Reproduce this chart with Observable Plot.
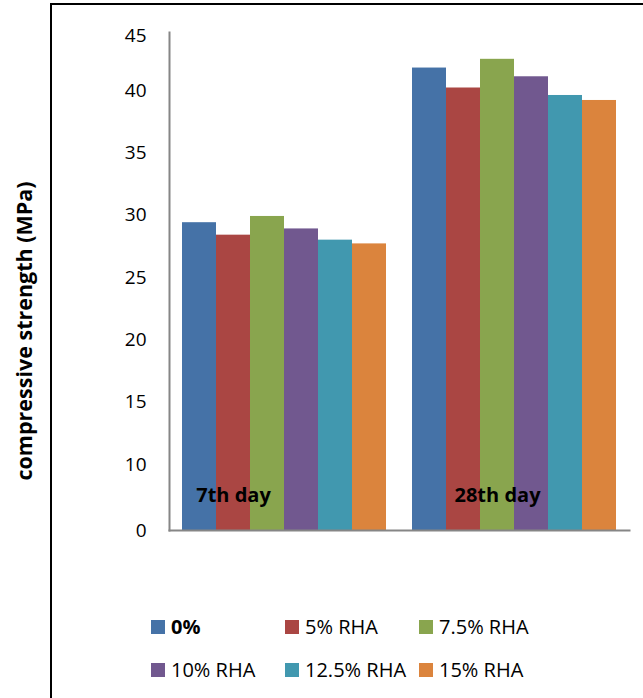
<!DOCTYPE html>
<html>
<head>
<meta charset="utf-8">
<script src="https://cdn.jsdelivr.net/npm/d3@7"></script>
<script src="https://cdn.jsdelivr.net/npm/@observablehq/plot@0.6"></script>
<style>
  html, body { margin: 0; padding: 0; background: #fff; }
  #wrap { position: relative; width: 643px; height: 698px; overflow: hidden; font-family: "Open Sans", sans-serif; }
  #chart { position: absolute; left: 0; top: 0; }
  #border { position: absolute; left: 50px; top: 3px; width: 700px; height: 800px; border-top: 2px solid #000; border-left: 2px solid #000; pointer-events: none; }
  .leg { position: absolute; display: flex; align-items: center; font-size: 20px; color: #000; white-space: nowrap; }
  .sw { width: 14px; height: 14px; margin-right: 6px; }
</style>
</head>
<body>
<div id="wrap">
  <div id="chart"></div>
  <div id="border"></div>
  <div id="legend"></div>
</div>
<script>
const groups = ["7th day", "28th day"];
const series = ["0%", "5% RHA", "7.5% RHA", "10% RHA", "12.5% RHA", "15% RHA"];
const day7 = [29.4, 28.4, 29.9, 28.9, 28.0, 27.7];
const day28 = [41.8, 40.2, 42.5, 41.1, 39.6, 39.2];
const colors = ["#4572A7", "#AA4643", "#89A54E", "#71588F", "#4198AF", "#DB843D"];
const yDomain = [4.72, 44.65];
const yTickValues = [4.72, 10, 15, 20, 25, 30, 35, 40, 44.4];
const yTickLabels = ["0", "10", "15", "20", "25", "30", "35", "40", "45"];
const yTitle = "compressive strength (MPa)";
const dayLabelAt = ["5% RHA", "7.5% RHA"];
const dayLabelY = [7.5, 7.5];

const data = [];
[day7, day28].forEach((vals, g) => vals.forEach((v, i) => data.push({group: groups[g], series: series[i], value: v})));
const dayLabels = groups.map((g, i) => ({group: g, at: dayLabelAt[i], y: dayLabelY[i]}));

const plot = Plot.plot({
  width: 643,
  height: 560,
  marginTop: 32,
  marginBottom: 30,
  marginLeft: 169,
  marginRight: 14,
  style: {fontFamily: "'Open Sans', sans-serif", color: "#000", background: "transparent"},
  fx: {domain: groups, padding: 0, axis: null, label: null},
  x: {domain: series, paddingInner: 0, paddingOuter: 0.382, axis: null},
  y: {domain: yDomain, axis: null},
  color: {domain: series, range: colors},
  marks: [
    Plot.barY(data, {fx: "group", x: "series", y1: yDomain[0], y2: "value", fill: "series"}),
    Plot.text(dayLabels, {fx: "group", x: "at", y: "y", text: "group", fontWeight: "bold", fontSize: 20, fill: "#000"}),
    Plot.axisY({ticks: yTickValues, tickFormat: (d, i) => yTickLabels[i], tickSize: 0, tickPadding: 23, fontSize: 19, fill: "#000", label: null}),
    Plot.text([yTitle], {facet: "super", frameAnchor: "left", text: d => d, rotate: -90, dx: -144, dy: 199, fontSize: 21.5, fontWeight: "bold", fill: "#000"}),
    Plot.frame({anchor: "bottom", facet: "super", stroke: "#868686", strokeWidth: 2}),
    Plot.frame({anchor: "left", facet: "super", stroke: "#868686", strokeWidth: 2})
  ]
});
document.getElementById("chart").appendChild(plot);

const legend = document.getElementById("legend");
const colLeft = [151, 285, 419];
const rowTop = [613, 656];
series.forEach((s, i) => {
  const item = document.createElement("div");
  item.className = "leg";
  item.style.left = colLeft[i % 3] + "px";
  item.style.top = rowTop[Math.floor(i / 3)] + "px";
  const sw = document.createElement("div");
  sw.className = "sw";
  sw.style.background = colors[i];
  const t = document.createElement("span");
  t.textContent = s;
  if (i === 0) t.style.fontWeight = "bold";
  item.appendChild(sw);
  item.appendChild(t);
  legend.appendChild(item);
});
</script>
</body>
</html>
